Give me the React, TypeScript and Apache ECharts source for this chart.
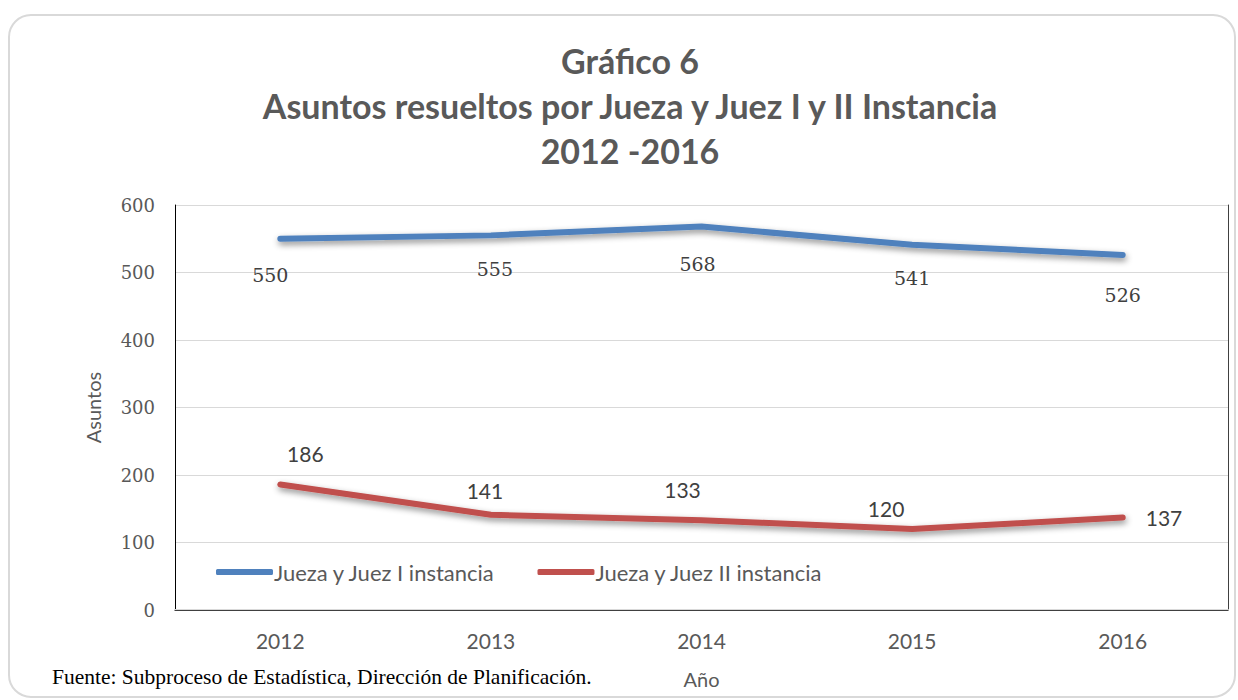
import React, { useEffect, useRef } from "react";
import * as echarts from "echarts";

const years = ["2012", "2013", "2014", "2015", "2016"];
const juezI = [550, 555, 568, 541, 526];
const juezII = [186, 141, 133, 120, 137];
const seriesNames = ["Jueza y Juez I instancia", "Jueza y Juez II instancia"];
const titleLines = ["Gráfico 6", "Asuntos resueltos por Jueza y Juez I y II Instancia", "2012 -2016"];
const sourceText = "Fuente: Subproceso de Estadística, Dirección de Planificación.";
const yTicks = { min: 0, max: 600, interval: 100 };

// label placement styling (not data)
const blueLabelStyle = [
  { distance: 26, offset: [-10, 0] },
  { distance: 23, offset: [4, 0] },
  { distance: 27, offset: [-4, 0] },
  { distance: 23, offset: [0, 0] },
  { distance: 30, offset: [0, 0] },
];
const redLabelStyle = [
  { position: "top", distance: 19, offset: [25, 0] },
  { position: "top", distance: 13, offset: [-6, 0] },
  { position: "top", distance: 19, offset: [-19, 0] },
  { position: "top", distance: 9, offset: [-26, 0] },
  { position: "right", distance: 22, offset: [0, 0] },
];

const BLUE = "#4F81BD";
const RED = "#C0504D";
const GRAY = "#595959";
const SANS = "Lato, 'Open Sans', sans-serif";
const SERIF = "'DejaVu Serif', serif";

export default function App() {
  const ref = useRef<HTMLDivElement>(null);
  useEffect(() => {
    if (!ref.current) return;
    const chart = echarts.init(ref.current, null, { renderer: "svg" });
    const option: any = {
      animation: false,
      backgroundColor: "#ffffff",
      graphic: [
        {
          type: "rect",
          shape: { x: 9, y: 15, width: 1226, height: 682, r: 22 },
          style: { fill: "none", stroke: "#d9d9d9", lineWidth: 2 },
          z: -10,
        },
        ...titleLines.map((t, i) => ({
          type: "text",
          x: 630,
          y: 60 + i * 45,
          style: {
            text: t,
            fill: GRAY,
            font: `bold 34px ${SANS}`,
            textAlign: "center",
            textVerticalAlign: "middle",
          },
        })),
        {
          type: "text",
          x: 52,
          y: 677,
          style: {
            text: sourceText,
            fill: "#000",
            font: `21.5px 'Liberation Serif', serif`,
            textAlign: "left",
            textVerticalAlign: "middle",
          },
        },
      ],
      grid: { left: 175, top: 205, right: 10, bottom: 90, containLabel: false },
      legend: {
        left: 211,
        top: 556,
        icon: "roundRect",
        itemWidth: 57,
        itemHeight: 6,
        itemGap: 42,
        textStyle: { fontFamily: SANS, fontSize: 22, color: GRAY, padding: [0, 0, 0, -4] },
        data: seriesNames,
      },
      xAxis: [
        {
          type: "category",
          data: years,
          boundaryGap: true,
          axisLine: { lineStyle: { color: "#d9d9d9", width: 2 } },
          axisTick: { show: false },
          axisLabel: { fontFamily: SANS, fontSize: 21, color: GRAY, margin: 20 },
          name: "Año",
          nameLocation: "middle",
          nameGap: 59,
          nameTextStyle: { fontFamily: SANS, fontSize: 20, color: GRAY },
        },
        {
          type: "category",
          data: years,
          position: "top",
          axisLine: { lineStyle: { color: "#404040", width: 1 } },
          axisTick: { show: false },
          axisLabel: { show: false },
        },
      ],
      yAxis: [
        {
          type: "value",
          min: yTicks.min,
          max: yTicks.max,
          interval: yTicks.interval,
          axisLine: { show: true, lineStyle: { color: "#000", width: 1 } },
          axisTick: { show: false },
          splitLine: { lineStyle: { color: "#d9d9d9", width: 1 } },
          axisLabel: { fontFamily: SERIF, fontSize: 18, color: GRAY, margin: 20 },
          name: "Asuntos",
          nameLocation: "middle",
          nameGap: 72,
          nameTextStyle: { fontFamily: SANS, fontSize: 20, color: GRAY },
        },
        {
          type: "value",
          min: yTicks.min,
          max: yTicks.max,
          interval: yTicks.interval,
          position: "right",
          axisLine: { show: true, lineStyle: { color: "#404040", width: 1 } },
          axisTick: { show: false },
          splitLine: { show: false },
          axisLabel: { show: false },
        },
      ],
      series: [
        {
          name: seriesNames[0],
          type: "line",
          data: juezI.map((v, i) => ({
            value: v,
            label: { position: "bottom", distance: blueLabelStyle[i].distance, offset: blueLabelStyle[i].offset },
          })),
          symbol: "circle",
          symbolSize: 2,
          itemStyle: { color: BLUE },
          lineStyle: {
            color: BLUE,
            width: 6,
            cap: "round",
            shadowColor: "rgba(0,0,0,0.45)",
            shadowBlur: 6,
            shadowOffsetY: 3,
            shadowOffsetX: 1,
          },
          label: { show: true, fontFamily: SERIF, fontSize: 19, color: "#404040" },
        },
        {
          name: seriesNames[1],
          type: "line",
          data: juezII.map((v, i) => ({
            value: v,
            label: {
              position: redLabelStyle[i].position,
              distance: redLabelStyle[i].distance,
              offset: redLabelStyle[i].offset,
            },
          })),
          symbol: "circle",
          symbolSize: 2,
          itemStyle: { color: RED },
          lineStyle: {
            color: RED,
            width: 6,
            cap: "round",
            shadowColor: "rgba(0,0,0,0.45)",
            shadowBlur: 6,
            shadowOffsetY: 3,
            shadowOffsetX: 1,
          },
          label: { show: true, fontFamily: SANS, fontSize: 21, color: "#404040" },
        },
      ],
    };
    chart.setOption(option);
    return () => chart.dispose();
  }, []);
  return (
    <div
      ref={ref}
      style={{ position: "fixed", left: 0, top: 0, width: 1238, height: 700, background: "#fff" }}
    />
  );
}
